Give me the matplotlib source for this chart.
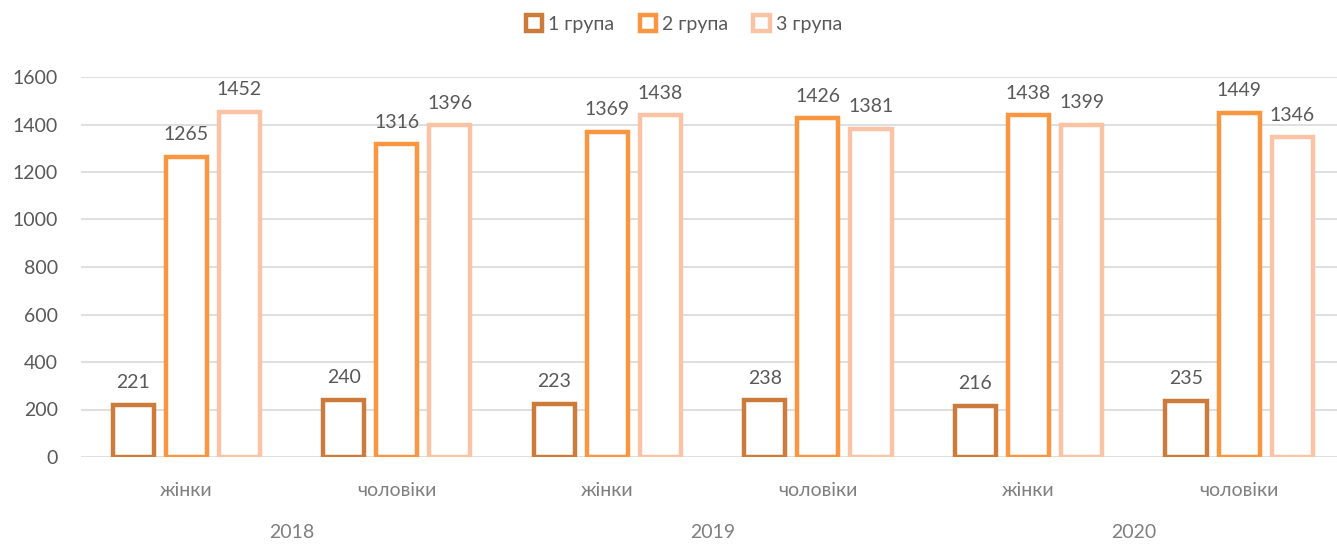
import matplotlib
matplotlib.use("Agg")
import matplotlib.pyplot as plt
from matplotlib.patches import Patch
import numpy as np

plt.rcParams['font.family'] = ['Lato', 'DejaVu Sans']

years = ["2018", "2019", "2020"]
categories = ["жінки", "чоловіки", "жінки", "чоловіки", "жінки", "чоловіки"]
series_names = ["1 група", "2 група", "3 група"]
group1 = [221, 240, 223, 238, 216, 235]
group2 = [1265, 1316, 1369, 1426, 1438, 1449]
group3 = [1452, 1396, 1438, 1381, 1399, 1346]
colors = ["#CD7B3A", "#F9963F", "#FBC3A5"]

fig = plt.figure(figsize=(13.37, 5.44), dpi=100)
ax = fig.add_axes([81/1337, 1-457/544, (1337-81)/1337, (457-77)/544])

x = np.arange(len(categories))
bw = 0.195
step = 0.252
lw = 3.2
for i, (vals, c, name) in enumerate(zip([group1, group2, group3], colors, series_names)):
    pos = x + (i - 1) * step
    ax.bar(pos, vals, width=bw, facecolor="white", edgecolor=c, linewidth=lw, label=name, zorder=3)
    for p, v in zip(pos, vals):
        ax.text(p, v + 58, str(v), ha="center", va="bottom", fontsize=14, color="#595959")

ax.set_xlim(-0.5, 5.465)
ax.set_ylim(0, 1600)
ax.set_yticks(range(0, 1601, 200))
ax.tick_params(axis='y', length=0, labelsize=14, labelcolor="#595959", pad=16.5)
ax.yaxis.grid(True, color="#D9D9D9", linewidth=1.2, zorder=0)
ax.set_axisbelow(True)
for s in ax.spines.values():
    s.set_visible(False)
ax.set_xticks(x)
ax.set_xticklabels(categories)
ax.tick_params(axis='x', length=0, labelsize=14, labelcolor="#7F7F7F", pad=18)

for j, y in enumerate(years):
    ax.text(2 * j + 0.5, -0.2, y, transform=ax.get_xaxis_transform(), ha="center", va="center",
            fontsize=14, color="#7F7F7F")
    
handles = [Patch(facecolor="white", edgecolor=c, linewidth=lw, label=n) for c, n in zip(colors, series_names)]
fig.legend(handles=handles, loc="center", bbox_to_anchor=(684/1337, 1-24/544), ncol=3, frameon=False,
           fontsize=14, labelcolor="#595959", handlelength=0.85, handleheight=0.85, handletextpad=0.3,
           columnspacing=1.3)

fig.savefig("out.png", dpi=100)
